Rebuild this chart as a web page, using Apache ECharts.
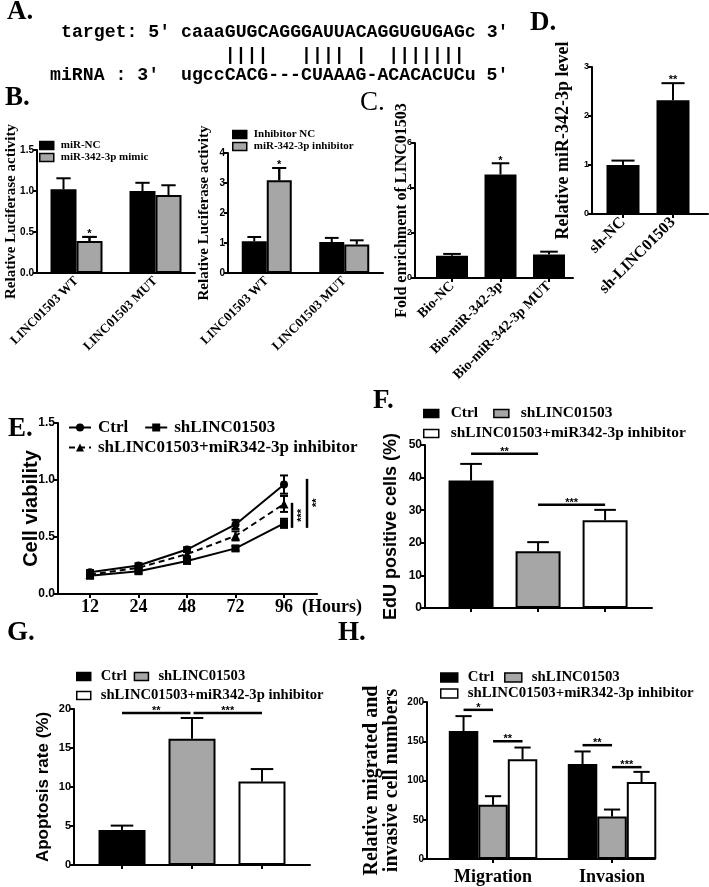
<!DOCTYPE html>
<html>
<head>
<meta charset="utf-8">
<script src="https://cdn.jsdelivr.net/npm/echarts@6/dist/echarts.min.js"></script>
<style>
html, body { margin: 0; padding: 0; background: #fff; }
#main { width: 709px; height: 887px; }
</style>
</head>
<body>
<div id="main"></div>
<script>
// ---- data ----
var seqTarget = "target: 5' caaaGUGCAGGGAUUACAGGUGUGAGc 3'";
var seqPairs = "    ||||   |||| |  |||||||";
var seqMirna = "miRNA : 3'  ugccCACG---CUAAAG-ACACACUCu 5'";

var bCats = ['LINC01503 WT', 'LINC01503 MUT'];
var b1NC = [1.02, 1.0], b1NCErr = [1.155, 1.10];
var b1Mimic = [0.39, 0.95], b1MimicErr = [0.44, 1.07];
var b2NC = [1.06, 1.03], b2NCErr = [1.2, 1.17];
var b2Inh = [3.09, 0.95], b2InhErr = [3.5, 1.09];

var cCats = ['Bio-NC', 'Bio-miR-342-3p', 'Bio-miR-342-3p MUT'];
var cVals = [0.99, 4.6, 1.05], cErr = [1.07, 5.1, 1.17];

var dCats = ['sh-NC', 'sh-LINC01503'];
var dVals = [1.0, 2.32], dErr = [1.09, 2.67];

var hours = ['12', '24', '48', '72', '96'];
var eCtrl = [0.19, 0.25, 0.39, 0.61, 0.96], eCtrlSd = [0.02, 0.02, 0.02, 0.04, 0.08];
var eSh = [0.16, 0.20, 0.29, 0.40, 0.62], eShSd = [0.02, 0.02, 0.02, 0.02, 0.04];
var eInh = [0.17, 0.23, 0.35, 0.51, 0.79], eInhSd = [0.02, 0.02, 0.02, 0.04, 0.07];

var groups = ['Ctrl', 'shLINC01503', 'shLINC01503+miR342-3p inhibitor'];
var fVals = [39.1, 17.4, 26.9], fErr = [44.2, 20.2, 30.1];
var gVals = [4.5, 16.2, 10.7], gErr = [5.05, 18.85, 12.3];

var hCats = ['Migration', 'Invasion'];
var hCtrl = [163, 121], hCtrlErr = [182, 137];
var hSh = [69, 54], hShErr = [80, 63];
var hInh = [127, 98], hInhErr = [142, 111];

var SERIF = '"Liberation Serif", "Times New Roman", serif';
var SANS = '"Liberation Sans", Arial, sans-serif';
var MONO = '"Liberation Mono", "Courier New", monospace';
var GRAY = '#a6a6a6';
var fills = ['#000', GRAY, '#fff'];

var chart = echarts.init(document.getElementById('main'));

function idx(arr) { return arr.map(function (c, i) { return i; }); }
function strip(n) { return n.split('|')[1]; }

function yAx(gi, max, step, name, gap, family, nameSize, tickSize, dec) {
    return {
        type: 'value', gridIndex: gi, min: 0, max: max, interval: step,
        name: name, nameLocation: 'middle', nameGap: gap, nameMoveOverlap: false,
        nameTextStyle: { fontFamily: family, fontWeight: 'bold', fontSize: nameSize, color: '#000', lineHeight: nameSize },
        axisLine: { show: true, onZero: false, lineStyle: { color: '#000', width: 2 } },
        axisTick: { show: true, length: 4, lineStyle: { color: '#000', width: 2 } },
        axisLabel: {
            color: '#000', fontFamily: SANS, fontWeight: 'bold', fontSize: tickSize, margin: 3,
            formatter: function (v) { return dec ? v.toFixed(dec) : String(v); }
        },
        splitLine: { show: false }
    };
}

function xCat(gi, cats, size) {
    return {
        type: 'category', gridIndex: gi, data: cats,
        axisLine: { onZero: false, lineStyle: { color: '#000', width: 2 } },
        axisTick: { alignWithLabel: true, length: 4, lineStyle: { color: '#000', width: 2 } },
        axisLabel: { rotate: 45, margin: 6, color: '#000', fontFamily: SERIF, fontWeight: 'bold', fontSize: size, interval: 0 },
        splitLine: { show: false }
    };
}

function xVal(gi, cats, min, max, lab) {
    var pos = idx(cats);
    return {
        type: 'value', gridIndex: gi, min: min, max: max,
        axisLine: { onZero: false, lineStyle: { color: '#000', width: 2 } },
        axisTick: { customValues: pos, length: 4, lineStyle: { color: '#000', width: 2 } },
        axisLabel: lab ? Object.assign({
            customValues: pos, color: '#000', fontFamily: SERIF, fontWeight: 'bold',
            formatter: function (v) { return cats[Math.round(v)]; }
        }, lab) : { show: false },
        splitLine: { show: false }
    };
}

function barS(name, gi, data, color, width, gap) {
    return {
        type: 'bar', name: name, xAxisIndex: gi, yAxisIndex: gi, data: data,
        barWidth: width, barGap: gap,
        itemStyle: { color: color, borderColor: '#000', borderWidth: 2 }
    };
}
function pts(vals) { return vals.map(function (v, i) { return [i, v]; }); }
function one(vals, k) { return [[k, vals[k]]]; }

function lineS(name, data, symbol, size, dashed) {
    return {
        type: 'line', name: name, xAxisIndex: 4, yAxisIndex: 4, data: pts(data),
        symbol: symbol, symbolSize: size, showSymbol: true,
        lineStyle: { color: '#000', width: 2, type: dashed ? [6, 4] : 'solid' },
        itemStyle: { color: '#000' }
    };
}

function legendRow(names, left, top, size, iw, ih, gap, pad, extra) {
    return Object.assign({
        data: names, left: left, top: top, orient: 'horizontal', selectedMode: false,
        itemWidth: iw, itemHeight: ih, itemGap: gap, icon: 'rect', padding: 0,
        itemStyle: { borderColor: '#000', borderWidth: 1.5 },
        formatter: strip,
        textStyle: { fontFamily: SERIF, fontWeight: 'bold', fontSize: size, color: '#000', padding: [0, 0, 0, pad] }
    }, extra || {});
}

var grids = [
    { left: 37, top: 150, width: 158, height: 123 },
    { left: 228, top: 153, width: 155, height: 120 },
    { left: 415, top: 143, width: 158, height: 135 },
    { left: 592, top: 67, width: 116, height: 147 },
    { left: 58, top: 423, width: 259, height: 171 },
    { left: 425, top: 445, width: 227, height: 163 },
    { left: 74, top: 709, width: 236, height: 156 },
    { left: 427, top: 702, width: 228, height: 157 }
].map(function (g) { g.outerBoundsMode = 'none'; g.containLabel = false; return g; });

var option = {
    animation: false,
    backgroundColor: '#fff',
    grid: grids,
    xAxis: [
        xCat(0, bCats, 13),
        xCat(1, bCats, 13),
        xVal(2, cCats, -0.763, 2.495, { rotate: 45, fontSize: 14, margin: 6 }),
        xVal(3, dCats, -0.62, 1.70, { rotate: 45, fontSize: 16, margin: 6 }),
        Object.assign(xVal(4, hours, -0.66, 4.68, { fontSize: 18, margin: 4 }), {
            name: '(Hours)', nameLocation: 'end', nameGap: -15,
            nameTextStyle: { fontFamily: SERIF, fontWeight: 'bold', fontSize: 18, color: '#000', align: 'left', verticalAlign: 'top', padding: [4, 0, 0, 0] }
        }),
        xVal(5, groups, -0.687, 2.70, null),
        xVal(6, groups, -0.686, 2.686, null),
        xVal(7, hCats, -0.555, 1.361, { fontSize: 18, margin: 9 })
    ],
    yAxis: [
        yAx(0, 1.5, 0.5, 'Relative Luciferase activity', 18, SERIF, 15, 10, 1),
        yAx(1, 4, 1, 'Relative Luciferase activity', 16, SERIF, 15, 10, 0),
        yAx(2, 6, 2, 'Fold enrichment of LINC01503', 5, SERIF, 16, 9, 0),
        yAx(3, 3, 1, 'Relative miR-342-3p level', 20, SERIF, 18, 9, 0),
        yAx(4, 1.5, 0.5, 'Cell viability', 17, SANS, 20, 12, 1),
        yAx(5, 50, 10, 'EdU positive cells (%)', 25, SANS, 18, 12, 0),
        yAx(6, 20, 5, 'Apoptosis rate (%)', 22, SANS, 17, 11, 0),
        yAx(7, 200, 50, 'Relative migrated and\ninvasive cell numbers', 25, SERIF, 20, 10, 0)
    ],
    legend: [
        legendRow(['B1|miR-NC', 'B1|miR-342-3p mimic'], 39, 140, 11, 14, 8, 1, 2, { orient: 'vertical' }),
        legendRow(['B2|Inhibitor NC', 'B2|miR-342-3p inhibitor'], 232, 129, 11, 14, 8, 1, 2, { orient: 'vertical' }),
        legendRow(['E|Ctrl', 'E|shLINC01503'], 68, 419, 17, 22, 10, 16, 2, { icon: null, itemStyle: {} }),
        legendRow(['E|shLINC01503+miR342-3p inhibitor'], 68, 439, 17, 22, 10, 16, 2, { icon: null, itemStyle: {} }),
        legendRow(['F|Ctrl', 'F|shLINC01503'], 423, 406, 15.4, 15, 8, 15, 7),
        legendRow(['F|shLINC01503+miR342-3p inhibitor'], 423, 426, 15.4, 15, 8, 15, 7),
        legendRow(['G|Ctrl', 'G|shLINC01503'], 76, 669, 14.6, 14, 8, 7, 5),
        legendRow(['G|shLINC01503+miR342-3p inhibitor'], 76, 688, 14.6, 14, 8, 7, 5),
        legendRow(['H|Ctrl', 'H|shLINC01503'], 440, 670, 14.8, 17, 9, 10, 5),
        legendRow(['H|shLINC01503+miR342-3p inhibitor'], 440, 686, 14.8, 17, 9, 10, 5)
    ],
    series: [
        barS('B1|miR-NC', 0, b1NC, '#000', 26, '0%'),
        barS('B1|miR-342-3p mimic', 0, b1Mimic, GRAY, 26, '0%'),
        barS('B2|Inhibitor NC', 1, b2NC, '#000', 25, '0%'),
        barS('B2|miR-342-3p inhibitor', 1, b2Inh, GRAY, 25, '0%'),
        barS('C', 2, pts(cVals), '#000', 32, '0%'),
        barS('D', 3, pts(dVals), '#000', 33, '0%'),
        lineS('E|Ctrl', eCtrl, 'circle', 8, false),
        lineS('E|shLINC01503', eSh, 'rect', 8, false),
        lineS('E|shLINC01503+miR342-3p inhibitor', eInh, 'triangle', 9, true),
        barS('F|' + groups[0], 5, one(fVals, 0), fills[0], 45, '-100%'),
        barS('F|' + groups[1], 5, one(fVals, 1), fills[1], 45, '-100%'),
        barS('F|' + groups[2], 5, one(fVals, 2), fills[2], 45, '-100%'),
        barS('G|' + groups[0], 6, one(gVals, 0), fills[0], 47, '-100%'),
        barS('G|' + groups[1], 6, one(gVals, 1), fills[1], 47, '-100%'),
        barS('G|' + groups[2], 6, one(gVals, 2), fills[2], 47, '-100%'),
        barS('H|' + groups[0], 7, pts(hCtrl), fills[0], 29.5, '0%'),
        barS('H|' + groups[1], 7, pts(hSh), fills[1], 29.5, '0%'),
        barS('H|' + groups[2], 7, pts(hInh), fills[2], 29.5, '0%')
    ]
};
chart.setOption(option);

// ---- overlays: error bars, significance marks, panel letters, sequence ----
var els = [];
var STAR = 'bold 11px ' + SANS;

function seg(x1, y1, x2, y2, w) {
    els.push({ type: 'line', silent: true, z: 100, shape: { x1: x1, y1: y1, x2: x2, y2: y2 }, style: { stroke: '#000', lineWidth: w || 2 } });
}
function txt(x, y, s, font, align, rot) {
    els.push({
        type: 'text', silent: true, z: 100, x: x, y: y, rotation: rot || 0,
        style: { text: s, font: font, fill: '#000', align: align || 'center', verticalAlign: 'middle', textAlign: align || 'center', textVerticalAlign: 'middle' }
    });
}
function px(si, x, v) { return chart.convertToPixel({ seriesIndex: si }, [x, v]); }

// bar centre = data point pixel + offset inside its group (grouped bars only)
function errBar(si, x, val, err, off, w, ratio) {
    var top = px(si, x, val), e = px(si, x, err), cx = top[0] + (off || 0);
    var cw = w * (ratio || 0.55);
    seg(cx, top[1], cx, e[1]);
    seg(cx - cw / 2, e[1], cx + cw / 2, e[1]);
    return { x: cx, y: e[1] };
}
function ptErr(si, vals, sds) {
    vals.forEach(function (v, i) {
        var hi = px(si, i, v + sds[i]), lo = px(si, i, v - sds[i]);
        seg(hi[0], hi[1], lo[0], lo[1]);
        seg(hi[0] - 4, hi[1], hi[0] + 4, hi[1]);
        seg(lo[0] - 4, lo[1], lo[0] + 4, lo[1]);
    });
}
function sig(x1, x2, y, label) {
    seg(x1, y, x2, y, 2.5);
    txt((x1 + x2) / 2, y - 2, label, STAR);
}

// B (two bars per group, width 26 / 25)
[0, 1].forEach(function (i) {
    errBar(0, i, b1NC[i], b1NCErr[i], -13, 26);
    errBar(1, i, b1Mimic[i], b1MimicErr[i], 13, 26);
    errBar(2, i, b2NC[i], b2NCErr[i], -12.5, 25);
    errBar(3, i, b2Inh[i], b2InhErr[i], 12.5, 25);
});
var m = errBar(1, 0, b1Mimic[0], b1MimicErr[0], 13, 26); txt(m.x, m.y - 3, '*', STAR);
m = errBar(3, 0, b2Inh[0], b2InhErr[0], 12.5, 25); txt(m.x, m.y - 3, '*', STAR);
// C
cVals.forEach(function (v, i) { var e = errBar(4, i, v, cErr[i], 0, 32); if (i === 1) txt(e.x, e.y - 2, '*', STAR); });
// D
dVals.forEach(function (v, i) { var e = errBar(5, i, v, dErr[i], 0, 33, 0.7); if (i === 1) txt(e.x, e.y - 3, '**', STAR); });
// E
ptErr(6, eCtrl, eCtrlSd); ptErr(7, eSh, eShSd); ptErr(8, eInh, eInhSd);
var last = px(6, 4, 0)[0];
seg(last + 8, px(6, 4, 0.80)[1], last + 8, px(6, 4, 0.58)[1], 2.5);
txt(last + 18, px(6, 4, 0.69)[1], '***', STAR, 'center', Math.PI / 2);
seg(last + 23, px(6, 4, 1.01)[1], last + 23, px(6, 4, 0.58)[1], 2.5);
txt(last + 33, px(6, 4, 0.80)[1], '**', STAR, 'center', Math.PI / 2);
// F
var fx = [0, 1, 2].map(function (k) { return errBar(9 + k, k, fVals[k], fErr[k], 0, 45, 0.48).x; });
sig(fx[0], fx[1], px(9, 0, 47.3)[1], '**');
sig(fx[1], fx[2], px(9, 0, 31.7)[1], '***');
// G
var gx = [0, 1, 2].map(function (k) { return errBar(12 + k, k, gVals[k], gErr[k], 0, 47, 0.48).x; });
sig(gx[0], gx[1] - 1.5, px(12, 0, 19.5)[1], '**');
sig(gx[1] + 1.5, gx[2], px(12, 0, 19.5)[1], '***');
// H (three bars per group, width 29.5)
var hx = [0, 1].map(function (i) {
    return [
        errBar(15, i, hCtrl[i], hCtrlErr[i], -29.5, 29.5).x,
        errBar(16, i, hSh[i], hShErr[i], 0, 29.5).x,
        errBar(17, i, hInh[i], hInhErr[i], 29.5, 29.5).x
    ];
});
sig(hx[0][0], hx[0][1], px(15, 0, 190)[1], '*');
sig(hx[0][1], hx[0][2], px(15, 0, 150)[1], '**');
sig(hx[1][0], hx[1][1], px(15, 0, 145)[1], '**');
sig(hx[1][1], hx[1][2], px(15, 0, 117)[1], '***');

// panel letters
var LET = 'bold 27px ' + SERIF;
txt(7, 12, 'A.', LET, 'left');
txt(5, 98, 'B.', LET, 'left');
txt(360, 103, 'C.', '27px ' + SERIF, 'left');
txt(530, 23, 'D.', LET, 'left');
txt(8, 429, 'E.', LET, 'left');
txt(373, 401, 'F.', LET, 'left');
txt(7, 633, 'G.', LET, 'left');
txt(338, 633, 'H.', LET, 'left');

// sequence alignment
var SEQ = 'bold 18.2px ' + MONO;
txt(61, 32, seqTarget, SEQ, 'left');
txt(181, 55, seqPairs, SEQ, 'left');
txt(50, 75, seqMirna, SEQ, 'left');

chart.setOption({ graphic: { elements: els } });
</script>
</body>
</html>
